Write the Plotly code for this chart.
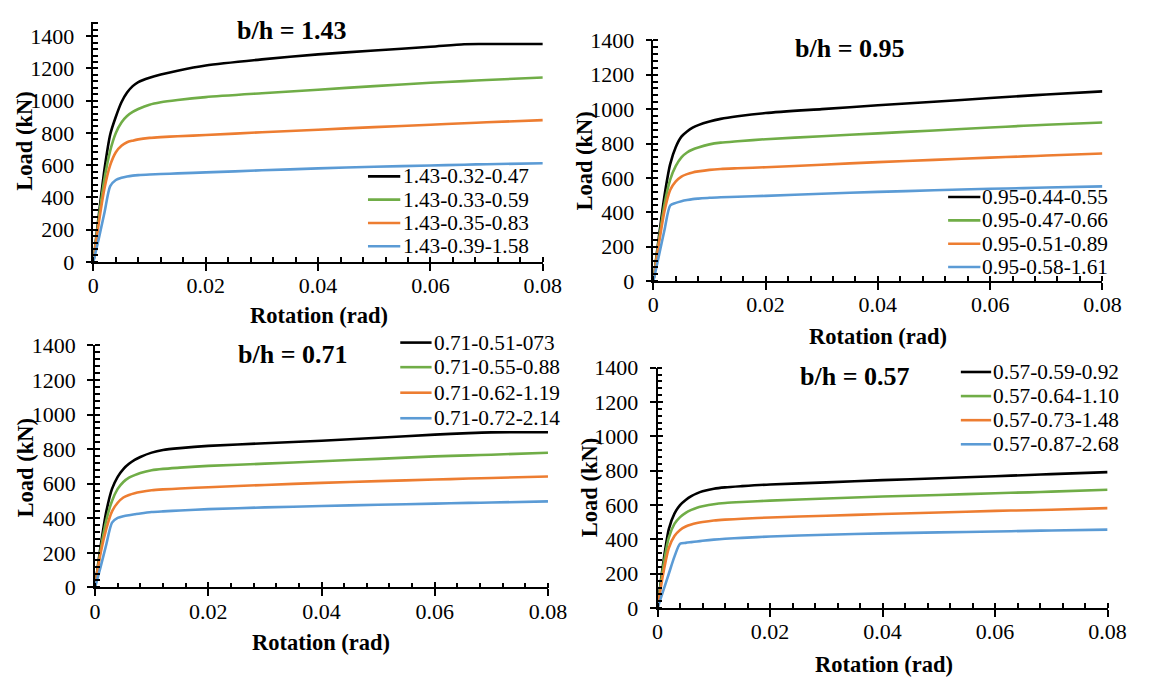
import plotly.graph_objects as go

W, H = 1153, 691

# ---------------- data ----------------
ROT = [0, 0.001, 0.002, 0.003, 0.004, 0.005, 0.006, 0.007, 0.008, 0.010, 0.012,
       0.015, 0.020, 0.030, 0.040, 0.050, 0.060, 0.066, 0.070, 0.080]

COLORS = ["#000000", "#70AD47", "#ED7D31", "#5B9BD5"]

# b/h = 1.43
P1_NAMES = ["1.43-0.32-0.47", "1.43-0.33-0.59", "1.43-0.35-0.83", "1.43-0.39-1.58"]
P1_BLACK = [0, 300, 580, 790, 900, 990, 1050, 1090, 1115, 1142, 1162, 1186, 1218, 1256, 1287, 1311, 1334, 1350, 1351, 1351]
P1_GREEN = [0, 280, 520, 690, 800, 865, 905, 930, 948, 975, 990, 1004, 1022, 1046, 1068, 1090, 1111, 1121, 1128, 1144]
P1_ORANGE = [0, 250, 460, 600, 680, 720, 742, 752, 760, 769, 774, 779, 787, 804, 820, 836, 851, 860, 866, 879]
P1_BLUE = [0, 150, 310, 470, 508, 522, 530, 535, 538, 542, 545, 549, 555, 568, 580, 590, 598, 603, 606, 612]

# b/h = 0.95
P2_NAMES = ["0.95-0.44-0.55", "0.95-0.47-0.66", "0.95-0.51-0.89", "0.95-0.58-1.61"]
P2_BLACK = [0, 260, 500, 680, 780, 840, 870, 892, 907, 928, 943, 958, 977, 1000, 1022, 1043, 1064, 1077, 1085, 1103]
P2_GREEN = [0, 240, 450, 590, 670, 720, 748, 765, 777, 795, 805, 813, 825, 842, 859, 876, 893, 903, 909, 922]
P2_ORANGE = [0, 220, 410, 530, 580, 608, 622, 632, 638, 647, 652, 656, 662, 677, 692, 705, 718, 725, 730, 742]
P2_BLUE = [0, 150, 300, 440, 455, 465, 472, 477, 480, 485, 488, 491, 496, 508, 519, 528, 537, 541, 544, 551]

# b/h = 0.71
P3_NAMES = ["0.71-0.51-073", "0.71-0.55-0.88", "0.71-0.62-1.19", "0.71-0.72-2.14"]
P3_BLACK = [0, 240, 440, 570, 640, 685, 715, 738, 755, 780, 795, 806, 819, 834, 849, 866, 884, 893, 897, 898]
P3_GREEN = [0, 220, 390, 500, 570, 610, 635, 650, 662, 678, 686, 693, 703, 716, 730, 744, 758, 764, 768, 779]
P3_ORANGE = [0, 200, 340, 440, 490, 520, 535, 545, 552, 562, 567, 572, 580, 593, 605, 615, 624, 630, 633, 642]
P3_BLUE = [0, 120, 250, 375, 402, 412, 418, 423, 428, 436, 440, 445, 453, 463, 471, 478, 485, 489, 491, 498]

# b/h = 0.57
P4_NAMES = ["0.57-0.59-0.92", "0.57-0.64-1.10", "0.57-0.73-1.48", "0.57-0.87-2.68"]
P4_BLACK = [0, 260, 460, 550, 600, 630, 652, 668, 680, 695, 703, 710, 720, 732, 745, 756, 768, 775, 780, 792]
P4_GREEN = [0, 240, 410, 490, 530, 555, 572, 585, 593, 605, 612, 618, 626, 638, 650, 659, 669, 674, 678, 689]
P4_ORANGE = [0, 200, 350, 420, 455, 475, 487, 495, 501, 510, 515, 520, 528, 538, 548, 557, 566, 570, 573, 582]
P4_BLUE = [0, 100, 200, 300, 375, 380, 384, 388, 392, 399, 404, 409, 417, 427, 435, 441, 446, 450, 452, 457]

TITLES = ["b/h = 1.43", "b/h = 0.95", "b/h = 0.71", "b/h = 0.57"]
X_RANGE = [0, 0.08]
Y_MAX = [1490, 1400, 1400, 1400]

# ---------------- layout geometry (pixels) ----------------
AREAS = [
    (89.3, 548.7, 259.3, 10.0),
    (661.7, 1120.7, 279.3, 29.3),
    (91.0, 554.0, 597.0, 346.0),
    (666.0, 1126.0, 618.5, 369.0),
]
TITLE_POS = [(292, 19), (862, 38), (293, 355), (867, 378)]
XT_POS = [(320, 315), (891, 337), (322, 654), (897, 677)]
YT_POS = [(19, 134), (591, 155), (20, 473), (596, 494)]
LEG = [  # line x0, line x1, text x, row ys
    (370, 403, 405, [170.5, 194.7, 218.9, 243.1]),
    (963, 996, 997, [192, 216.2, 240.4, 264.6]),
    (403, 435, 436, [343, 368.5, 395, 421.5]),
    (976, 1007, 1008, [373.5, 398.5, 423.5, 448.5]),
]

PANELS = [
    (P1_NAMES, [P1_BLACK, P1_GREEN, P1_ORANGE, P1_BLUE]),
    (P2_NAMES, [P2_BLACK, P2_GREEN, P2_ORANGE, P2_BLUE]),
    (P3_NAMES, [P3_BLACK, P3_GREEN, P3_ORANGE, P3_BLUE]),
    (P4_NAMES, [P4_BLACK, P4_GREEN, P4_ORANGE, P4_BLUE]),
]

FONT = "Liberation Serif"


def px(x):
    return x / W


def py(y):
    return 1 - y / H


fig = go.Figure()
layout = {}
annotations = []
shapes = []

for i, ((names, series), area) in enumerate(zip(PANELS, AREAS)):
    n = i + 1
    xa = "x" if n == 1 else f"x{n}"
    ya = "y" if n == 1 else f"y{n}"
    for name, vals, col in zip(names, series, COLORS):
        fig.add_trace(go.Scatter(x=ROT, y=vals, mode="lines", name=name,
                                 line=dict(color=col, width=2.6, shape="spline", smoothing=0.7),
                                 xaxis=xa, yaxis=ya, showlegend=False))
    x0, x1, yb, yt = area
    xdom = [px(x0), px(x1)]
    ydom = [py(yb), py(yt)]
    common = dict(showgrid=False, zeroline=False, showline=True, linecolor="black",
                  linewidth=1.6, tickcolor="black", tickwidth=1.5,
                  tickfont=dict(family=FONT, size=22, color="black"))
    layout["xaxis" if n == 1 else f"xaxis{n}"] = dict(
        domain=xdom, anchor=ya, range=X_RANGE, tick0=0, dtick=0.02,
        ticks="outside", ticklen=7, ticklabelstandoff=-4,
        minor=dict(dtick=0.004, tick0=0, ticks="inside", ticklen=5, tickwidth=1.5,
                   tickcolor="black", showgrid=False),
        **common)
    layout["yaxis" if n == 1 else f"yaxis{n}"] = dict(
        domain=ydom, anchor=xa, range=[0, Y_MAX[i]], tick0=0, dtick=200,
        ticks="outside", ticklen=6, ticklabelstandoff=7,
        minor=dict(dtick=40, tick0=0, ticks="inside", ticklen=5, tickwidth=1.5,
                   tickcolor="black", showgrid=False),
        **common)
    # overlay axes: inner half of the major (crossing) ticks
    m = n + 4
    layout[f"xaxis{m}"] = dict(domain=xdom, anchor=f"y{m}", overlaying=xa, range=X_RANGE,
                               tick0=0, dtick=0.02, ticks="inside", ticklen=5, tickwidth=1.5,
                               tickcolor="black", showticklabels=False, showline=False,
                               showgrid=False, zeroline=False)
    layout[f"yaxis{m}"] = dict(domain=ydom, anchor=f"x{m}", overlaying=ya, range=[0, Y_MAX[i]],
                               tick0=0, dtick=200, ticks="inside", ticklen=5, tickwidth=1.5,
                               tickcolor="black", showticklabels=False, showline=False,
                               showgrid=False, zeroline=False)
    fig.add_trace(go.Scatter(x=[None], y=[None], xaxis=f"x{m}", yaxis=f"y{m}",
                             showlegend=False, hoverinfo="skip"))

    tx, ty = TITLE_POS[i]
    annotations.append(dict(x=px(tx), y=py(ty), xref="paper", yref="paper", showarrow=False,
                            text=f"<b>{TITLES[i]}</b>", xanchor="center", yanchor="middle",
                            font=dict(family=FONT, size=26, color="black")))
    ax_, ay_ = XT_POS[i]
    annotations.append(dict(x=px(ax_), y=py(ay_), xref="paper", yref="paper", showarrow=False,
                            text="<b>Rotation (rad)</b>", xanchor="center", yanchor="middle",
                            font=dict(family=FONT, size=22.5, color="black")))
    bx, by = YT_POS[i]
    annotations.append(dict(x=px(bx), y=py(by), xref="paper", yref="paper", showarrow=False,
                            text="<b>Load (kN)</b>", textangle=-90, xanchor="center",
                            yanchor="middle", font=dict(family=FONT, size=22.5, color="black")))
    lx0, lx1, ltx, rows = LEG[i]
    for name, col, ry in zip(names, COLORS, rows):
        shapes.append(dict(type="line", xref="paper", yref="paper", x0=px(lx0), x1=px(lx1),
                           y0=py(ry), y1=py(ry), line=dict(color=col, width=2.6)))
        annotations.append(dict(x=px(ltx), y=py(ry), xref="paper", yref="paper",
                                showarrow=False, text=name, xanchor="left", yanchor="middle",
                                borderpad=0,
                                font=dict(family=FONT, size=21.3, color="black")))

fig.update_layout(
    width=W, height=H, margin=dict(l=0, r=0, t=0, b=0),
    paper_bgcolor="white", plot_bgcolor="white", showlegend=False,
    annotations=annotations, shapes=shapes, **layout)

fig.write_html("out.html")
